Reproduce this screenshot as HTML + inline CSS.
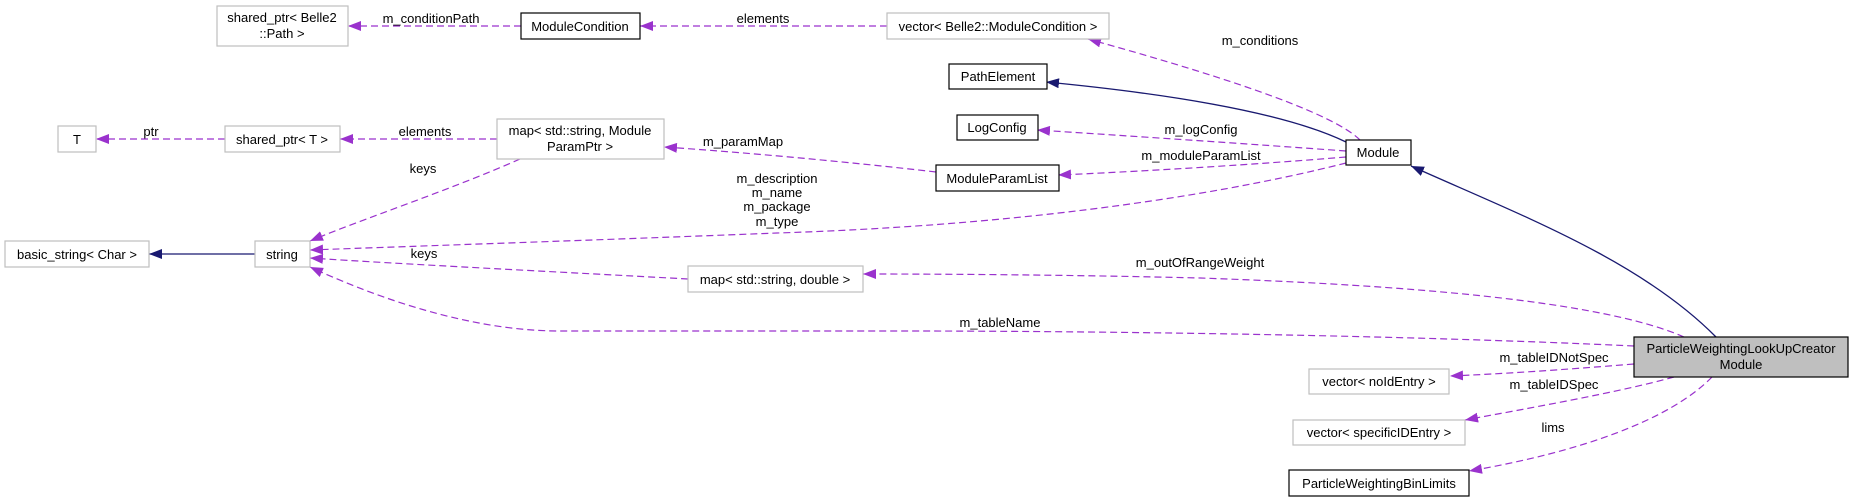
<!DOCTYPE html>
<html><head><meta charset="utf-8"><style>
html,body{margin:0;padding:0;background:#fff;}
svg{display:block;}
text{font-family:"Liberation Sans",Arial,sans-serif;font-size:13px;fill:#000;}
</style></head><body>
<svg width="1849" height="502" viewBox="0 0 1849 502" xmlns="http://www.w3.org/2000/svg">
<defs>
<marker id="ap" markerUnits="userSpaceOnUse" markerWidth="14" markerHeight="10" refX="13" refY="5" orient="auto"><path d="M0,0 L13,5 L0,10 Z" fill="#9a32cd"/></marker>
<marker id="an" markerUnits="userSpaceOnUse" markerWidth="14" markerHeight="10" refX="13" refY="5" orient="auto"><path d="M0,0 L13,5 L0,10 Z" fill="#191970"/></marker>
</defs>
<g fill="none" stroke="#9a32cd" stroke-width="1.2" stroke-dasharray="7,4" marker-end="url(#ap)">
<path d="M521,26 L348,26"/>
<path d="M887,26 L640,26"/>
<path d="M1360,140 C1330,110 1200,70 1088,39"/>
<path d="M1346,151 C1250,144 1130,136 1037,130"/>
<path d="M1346,157 C1250,165 1130,172 1058,175"/>
<path d="M936,172 C850,162 740,152 664,147"/>
<path d="M1346,163 C1200,200 1000,226 777,233 C600,240 420,246 310,250"/>
<path d="M497,139 L340,139"/>
<path d="M225,139 L96,139"/>
<path d="M520,159 C450,190 360,220 310,241"/>
<path d="M688,279 C560,272 400,264 310,258"/>
<path d="M1684,337 C1600,300 1400,285 1200,278 C1080,275 950,274 863,274"/>
<path d="M1634,346 C1400,335 1100,331 900,331 L560,331 C460,331 360,290 310,267"/>
<path d="M1634,364 C1560,370 1500,374 1450,376"/>
<path d="M1674,377 C1620,392 1530,408 1465,420"/>
<path d="M1712,377 C1670,420 1580,452 1469,471"/>
</g>
<g fill="none" stroke="#191970" stroke-width="1.3" marker-end="url(#an)">
<path d="M1346,142 C1280,110 1150,92 1046,82"/>
<path d="M255,254 L149,254"/>
<path d="M1716,337 C1640,260 1520,215 1411,166"/>
</g>
<g stroke-width="1.2">
<rect x="217" y="6" width="131" height="40" fill="#fff" stroke="#bfbfbf"/>
<rect x="521" y="13" width="119" height="26" fill="#fff" stroke="#000"/>
<rect x="887" y="13" width="222" height="26" fill="#fff" stroke="#bfbfbf"/>
<rect x="949" y="64" width="98" height="25" fill="#fff" stroke="#000"/>
<rect x="957" y="115" width="81" height="25" fill="#fff" stroke="#000"/>
<rect x="936" y="165" width="123" height="26" fill="#fff" stroke="#000"/>
<rect x="1346" y="140" width="65" height="25" fill="#fff" stroke="#000"/>
<rect x="58" y="126" width="38" height="26" fill="#fff" stroke="#bfbfbf"/>
<rect x="225" y="126" width="115" height="26" fill="#fff" stroke="#bfbfbf"/>
<rect x="497" y="119" width="167" height="40" fill="#fff" stroke="#bfbfbf"/>
<rect x="5" y="241" width="144" height="26" fill="#fff" stroke="#bfbfbf"/>
<rect x="255" y="241" width="55" height="26" fill="#fff" stroke="#bfbfbf"/>
<rect x="688" y="266" width="175" height="26" fill="#fff" stroke="#bfbfbf"/>
<rect x="1634" y="337" width="214" height="40" fill="#bfbfbf" stroke="#000"/>
<rect x="1309" y="369" width="140" height="25" fill="#fff" stroke="#bfbfbf"/>
<rect x="1293" y="420" width="172" height="25" fill="#fff" stroke="#bfbfbf"/>
<rect x="1289" y="470" width="180" height="26" fill="#fff" stroke="#000"/>
</g>
<g text-anchor="middle">
<text x="282" y="22">shared_ptr&lt; Belle2</text>
<text x="282" y="38">::Path &gt;</text>
<text x="580" y="31">ModuleCondition</text>
<text x="998" y="31">vector&lt; Belle2::ModuleCondition &gt;</text>
<text x="998" y="81">PathElement</text>
<text x="997" y="132">LogConfig</text>
<text x="997" y="183">ModuleParamList</text>
<text x="1378" y="157">Module</text>
<text x="77" y="144">T</text>
<text x="282" y="144">shared_ptr&lt; T &gt;</text>
<text x="580" y="135">map&lt; std::string, Module</text>
<text x="580" y="151">ParamPtr &gt;</text>
<text x="77" y="259">basic_string&lt; Char &gt;</text>
<text x="282" y="259">string</text>
<text x="775" y="284">map&lt; std::string, double &gt;</text>
<text x="1741" y="353">ParticleWeightingLookUpCreator</text>
<text x="1741" y="369">Module</text>
<text x="1379" y="386">vector&lt; noIdEntry &gt;</text>
<text x="1379" y="437">vector&lt; specificIDEntry &gt;</text>
<text x="1379" y="488">ParticleWeightingBinLimits</text>
<text x="431" y="23">m_conditionPath</text>
<text x="763" y="23">elements</text>
<text x="1260" y="45">m_conditions</text>
<text x="1201" y="134">m_logConfig</text>
<text x="1201" y="160">m_moduleParamList</text>
<text x="743" y="146">m_paramMap</text>
<text x="151" y="136">ptr</text>
<text x="425" y="136">elements</text>
<text x="423" y="173">keys</text>
<text x="777" y="183">m_description</text>
<text x="777" y="197">m_name</text>
<text x="777" y="211">m_package</text>
<text x="777" y="226">m_type</text>
<text x="424" y="258">keys</text>
<text x="1200" y="267">m_outOfRangeWeight</text>
<text x="1000" y="327">m_tableName</text>
<text x="1554" y="362">m_tableIDNotSpec</text>
<text x="1554" y="389">m_tableIDSpec</text>
<text x="1553" y="432">lims</text>
</g>
</svg>
</body></html>
